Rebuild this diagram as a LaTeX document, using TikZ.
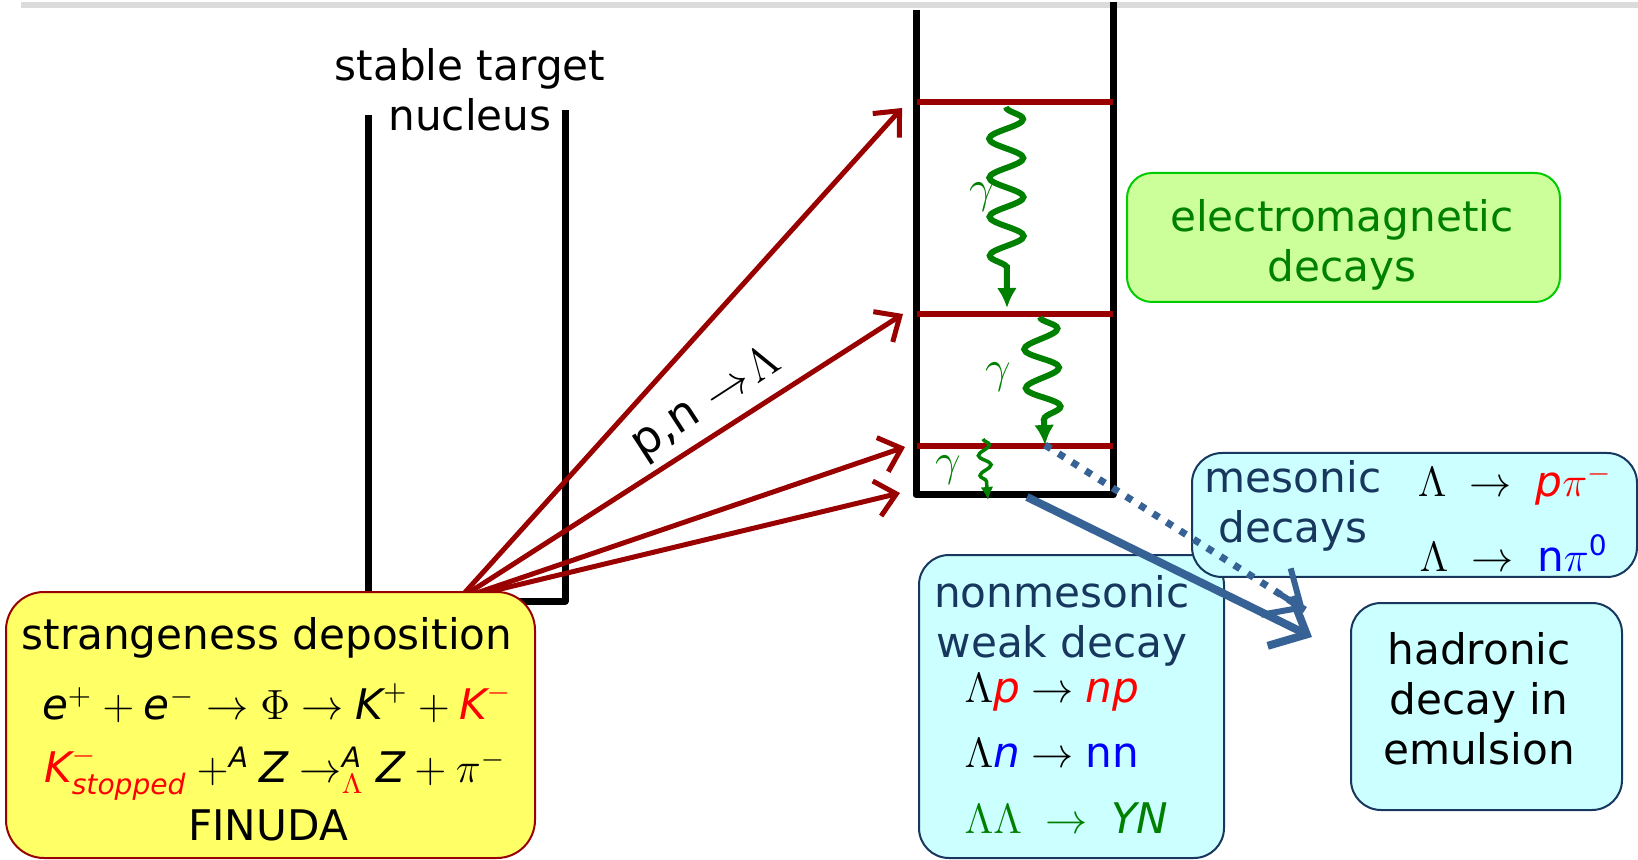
\RequirePackage{fix-cm}
\documentclass[tikz,border=0pt]{standalone}
\usepackage{amsmath}
\usepackage{fontspec}
\setmainfont{DejaVu Sans}
\usetikzlibrary{arrows.meta, calc, decorations.pathmorphing}

\definecolor{darkred}{RGB}{153,0,0}
\definecolor{emgreen}{RGB}{0,128,0}
\definecolor{brightgreen}{RGB}{0,204,0}
\definecolor{navy}{RGB}{23,55,94}
\definecolor{steel}{RGB}{54,98,150}
\definecolor{paleyellow}{RGB}{255,255,102}
\definecolor{palegreen}{RGB}{204,255,153}
\definecolor{palecyan}{RGB}{204,255,255}

\tikzset{
  txt/.style={font=\fontsize{12}{14.3}\selectfont, align=center, inner sep=0pt},
  gam/.style={emgreen, font=\fontsize{13}{15}\selectfont, inner sep=0pt},
  wall/.style={line width=0.7mm, line join=round},
  shell/.style={darkred, line width=0.55mm},
  feed/.style={darkred, line width=0.5mm, -{Straight Barb[length=2mm,width=3.6mm]}},
  photon/.style={emgreen, line width=0.6mm, decorate,
    decoration={snake, amplitude=1.7mm, segment length=3.9mm, post length=2.4mm},
    -{Latex[length=2mm,width=2mm]}},
  weak/.style={steel, line width=0.8mm, -{Straight Barb[length=3mm,width=5.5mm]}},
  box/.style={draw, line width=0.2mm, rounded corners=3mm, inner sep=0pt},
}

\begin{document}
\begin{tikzpicture}[x=0.1mm, y=-0.1mm]
    \useasboundingbox (0,0) rectangle (1638,860);
    \draw[line width=0.6mm, black!14] (21,5) -- (1638,5);

    % wells: stable nucleus and hypernucleus
    \draw[wall] (368,115) |- (565,601) -- (565,110);
    \draw[wall] (916,10) |- (1113,495) -- (1113,2);
    \node[txt] (target) at (470,90) {stable target\\nucleus};

    % Lambda levels
    \foreach \y in {102, 314, 446}
        \draw[shell] (917,\y) -- (1113,\y);

    % gamma cascade
    \coordinate (p1) at (1006,107);
    \coordinate (p2) at (1007,308);
    \coordinate (p3) at (1040,317);
    \coordinate (p4) at (1045,445);
    \coordinate (p5) at (983,439);
    \coordinate (p6) at (988,500);
    \draw[photon] (p1) -- (p2);
    \draw[photon] (p3) -- (p4);
    \draw[photon, line width=0.35mm,
      decoration={amplitude=0.6mm, segment length=2mm, post length=1.2mm},
      -{Latex[length=1.3mm,width=1.3mm]}] (p5) -- (p6);
    \node[gam] (g1) at (982,197) {$\gamma$};
    \node[gam] (g2) at (998,377) {$\gamma$};
    \node[gam] (g3) at (948,470) {$\gamma$};

    % p,n -> Lambda feeding
    \coordinate (src) at (459,599);
    \coordinate (t1) at (902,108);
    \coordinate (t2) at (903,314);
    \coordinate (t3) at (905,447);
    \coordinate (t4) at (900,493);
    \foreach \t in {1,...,4}
        \draw[feed] (src) -- (t\t);
    \node[txt, rotate=33, font=\fontsize{13}{15}\selectfont] (pn) at (707,404)
        {p,n $\rightarrow\!\Lambda$};

    % production
    \node[box, fill=paleyellow, draw=darkred, rounded corners=3.8mm,
      minimum width=52.9mm, minimum height=26.6mm] (dep) at (270.5,725) {};
    \node[txt] (dep1) at (267,638) {strangeness deposition};
    \node[txt] (dep2) at (277,703)
        {$\textit{e}^{+} + \textit{e}^{-} \rightarrow \Phi \rightarrow \textit{K}^{+} + \textcolor{red}{\textit{K}^{-}}$};
    \node[txt] (dep3) at (275,773)
        {$\textcolor{red}{\textit{K}^{-}_{\textit{stopped}}} +^{\textit{A}} \textit{Z} \rightarrow^{\textit{A}}_{\textcolor{red}{\Lambda}} \textit{Z} + \pi^{-}$};
    \node[txt] (dep4) at (268,825) {FINUDA};

    \node[box, fill=palegreen, draw=brightgreen, rounded corners=2.5mm,
      minimum width=43.3mm, minimum height=12.9mm] (em) at (1343.5,237.5) {};
    \node[txt, text=emgreen] (emtxt) at (1342,245) {electromagnetic\\decays};

    % weak decays
    \node[box, fill=palecyan, draw=navy, minimum width=30.5mm, minimum height=30.3mm]
        (nonmes) at (1071.5,706.5) {};
    \node[txt, text=navy] (nm) at (1062,621) {nonmesonic\\weak decay};
    \node[txt, anchor=west] (nm1) at (964,692)
        {$\Lambda\textcolor{red}{\textit{p}} \rightarrow \textcolor{red}{\textit{np}}$};
    \node[txt, anchor=west] (nm2) at (964,753)
        {$\Lambda\textcolor{blue}{\textit{n}} \rightarrow \textcolor{blue}{\text{nn}}$};
    \node[txt, anchor=west, text=emgreen] (nm3) at (964,818)
        {$\Lambda\Lambda \;\rightarrow\; \textit{YN}$};

    \node[box, fill=palecyan, draw=navy, minimum width=44.5mm, minimum height=12.4mm]
        (mes) at (1414.5,515) {};
    \node[txt, text=navy] (ms) at (1293,506) {mesonic\\decays};
    \node[txt] (ms1) at (1515,485)
        {$\Lambda \;\rightarrow\; \textcolor{red}{\textit{p}\pi^{-}}$};
    \node[txt] (ms2) at (1514,553)
        {$\Lambda \;\rightarrow\; \textcolor{blue}{\text{n}\pi^{\text{0}}}$};

    \node[box, fill=palecyan, draw=navy, minimum width=27.1mm, minimum height=20.7mm]
        (had) at (1486.5,706.5) {};
    \node[txt] (hadtxt) at (1479,699) {hadronic\\decay in\\emulsion};

    \coordinate (wb) at (1027,497);
    \coordinate (hd1) at (1312,637);
    \coordinate (hd2) at (1305,610);
    \draw[weak] (wb) -- (hd1);
    \draw[steel, line width=0.7mm, dash pattern=on 0.7mm off 0.9mm] (p4) -- (hd2);
    \draw[weak, line width=0.6mm] ($(p4)!0.9!(hd2)$) -- (hd2);
\end{tikzpicture}
\end{document}
